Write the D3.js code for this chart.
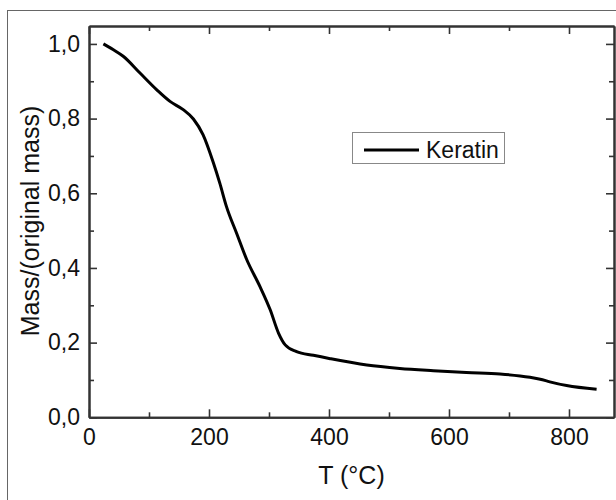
<!DOCTYPE html>
<html>
  <head>
    <title>Keratin TGA</title>
    <script src="https://d3js.org/d3.v7.min.js"></script>
    <style>
      body { margin: 0; background: #fff; }
      text { font-family: "Liberation Sans", Arial, sans-serif; fill: #111; }
      .axis path, .axis line { stroke: #333; }
      .axis path { stroke-width: 2; }
      .axis line { stroke-width: 1.6; }
    </style>
  </head>
  <body>
    <div id="chart"></div>
    <script>
      // temperature (°C) and normalised mass
      var temps = [24, 40, 57, 85, 113, 135, 157, 174, 190, 207, 218, 229, 246, 263, 285, 302, 316, 327, 346, 374, 402, 463, 518, 574, 629, 685, 735, 752, 768, 796, 846];
      var mass = [1.0, 0.985, 0.967, 0.922, 0.877, 0.846, 0.824, 0.799, 0.757, 0.683, 0.627, 0.565, 0.493, 0.422, 0.350, 0.288, 0.225, 0.194, 0.176, 0.166, 0.157, 0.140, 0.131, 0.125, 0.120, 0.116, 0.107, 0.102, 0.095, 0.085, 0.075];
      var xTicks = [0, 200, 400, 600, 800];
      var xMinor = [100, 300, 500, 700];
      var yTicks = [0, 0.2, 0.4, 0.6, 0.8, 1.0];
      var yMinor = [0.1, 0.3, 0.5, 0.7, 0.9];
      var seriesName = "Keratin";

      var data = temps.map(function(t, i) { return { x: t, y: mass[i] }; });

      var svg = d3.select("#chart")
        .append("svg")
        .attr("width", 616)
        .attr("height", 500);

      // outer frame (cut off at right and bottom)
      svg.append("rect")
        .attr("x", 7.5).attr("y", 10.5)
        .attr("width", 700).attr("height", 600)
        .attr("fill", "none")
        .attr("stroke", "#666")
        .attr("stroke-width", 1);

      var plotLeft = 89, plotRight = 614, plotTop = 26, plotBottom = 417.3;

      var xScale = d3.scaleLinear().domain([0, 875]).range([plotLeft, plotRight]);
      var yScale = d3.scaleLinear().domain([0, 1.048]).range([plotBottom, plotTop]);

      function fmt(d) { return d3.format(".1f")(d).replace(".", ","); }

      // bottom axis
      svg.append("g").attr("class", "axis")
        .attr("transform", "translate(0," + plotBottom + ")")
        .call(d3.axisBottom(xScale).tickValues(xMinor).tickSize(-5).tickSizeOuter(0).tickFormat(""));
      svg.append("g").attr("class", "axis")
        .attr("transform", "translate(0," + plotBottom + ")")
        .call(d3.axisBottom(xScale).tickValues(xTicks).tickSize(-8).tickSizeOuter(0).tickPadding(11))
        .selectAll("text").style("font-size", "23px");

      // top axis
      svg.append("g").attr("class", "axis")
        .attr("transform", "translate(0," + plotTop + ")")
        .call(d3.axisTop(xScale).tickValues(xMinor).tickSize(-5).tickSizeOuter(0).tickFormat(""));
      svg.append("g").attr("class", "axis")
        .attr("transform", "translate(0," + plotTop + ")")
        .call(d3.axisTop(xScale).tickValues(xTicks).tickSize(-8).tickSizeOuter(0).tickFormat(""));

      // left axis
      svg.append("g").attr("class", "axis")
        .attr("transform", "translate(" + plotLeft + ",0)")
        .call(d3.axisLeft(yScale).tickValues(yMinor).tickSize(-5).tickSizeOuter(0).tickFormat(""));
      svg.append("g").attr("class", "axis")
        .attr("transform", "translate(" + plotLeft + ",0)")
        .call(d3.axisLeft(yScale).tickValues(yTicks).tickSize(-8).tickSizeOuter(0).tickPadding(9).tickFormat(fmt))
        .selectAll("text").style("font-size", "23px");

      // right axis
      svg.append("g").attr("class", "axis")
        .attr("transform", "translate(" + plotRight + ",0)")
        .call(d3.axisRight(yScale).tickValues(yMinor).tickSize(-5).tickSizeOuter(0).tickFormat(""));
      svg.append("g").attr("class", "axis")
        .attr("transform", "translate(" + plotRight + ",0)")
        .call(d3.axisRight(yScale).tickValues(yTicks).tickSize(-8).tickSizeOuter(0).tickFormat(""));

      // the curve
      var line = d3.line()
        .x(function(d) { return xScale(d.x); })
        .y(function(d) { return yScale(d.y); })
        .curve(d3.curveMonotoneX);

      svg.append("path")
        .datum(data)
        .attr("d", line)
        .attr("fill", "none")
        .attr("stroke", "#000")
        .attr("stroke-width", 3);

      // axis titles
      svg.append("text")
        .attr("x", (plotLeft + plotRight) / 2)
        .attr("y", 484)
        .attr("text-anchor", "middle")
        .style("font-size", "25px")
        .text("T (°C)");

      svg.append("text")
        .attr("transform", "translate(39,221) rotate(-90)")
        .attr("text-anchor", "middle")
        .style("font-size", "25px")
        .text("Mass/(original mass)");

      // legend
      var legend = svg.append("g");
      legend.append("rect")
        .attr("x", 352.5).attr("y", 132.5)
        .attr("width", 152).attr("height", 31)
        .attr("fill", "#fff")
        .attr("stroke", "#888");
      legend.append("line")
        .attr("x1", 364).attr("x2", 419)
        .attr("y1", 150).attr("y2", 150)
        .attr("stroke", "#000")
        .attr("stroke-width", 3);
      legend.append("text")
        .attr("x", 426).attr("y", 158)
        .style("font-size", "23px")
        .text(seriesName);
    </script>
  </body>
</html>
